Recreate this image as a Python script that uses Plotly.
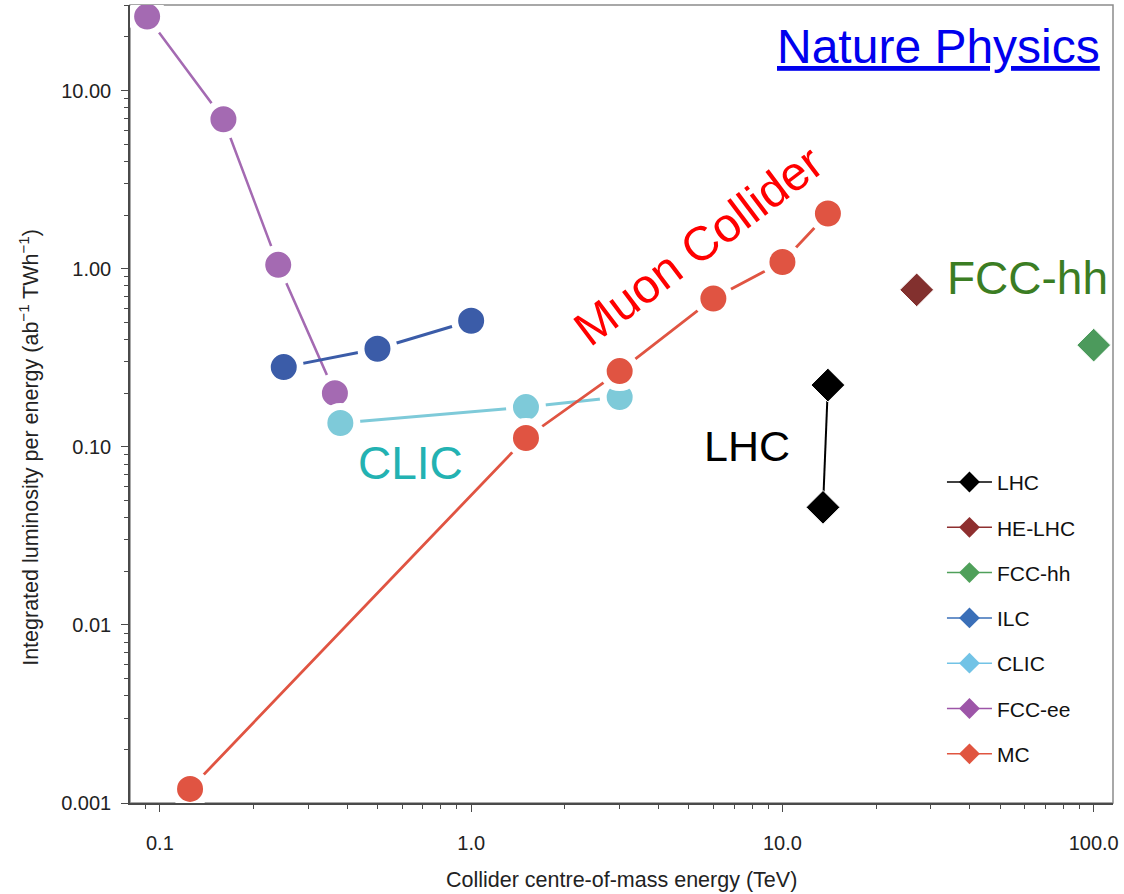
import plotly.graph_objects as go

# ---- data (TeV, ab^-1 TWh^-1) ----
fccee_E = [0.091, 0.16, 0.24, 0.365]
fccee_L = [26.0, 6.9, 1.05, 0.20]

ilc_E = [0.25, 0.5, 1.0]
ilc_L = [0.28, 0.355, 0.51]

clic_E = [0.38, 1.5, 3.0]
clic_L = [0.136, 0.167, 0.19]

mc_E = [0.125, 1.5, 3.0, 6.0, 10.0, 14.0]
mc_L = [0.0012, 0.112, 0.266, 0.68, 1.09, 2.04]

lhc_E = [14.0, 13.5]
lhc_L = [0.222, 0.0457]

helhc_E = [27.0]
helhc_L = [0.76]

fcchh_E = [100.0]
fcchh_L = [0.372]

legend_names = ["LHC", "HE-LHC", "FCC-hh", "ILC", "CLIC", "FCC-ee", "MC"]
legend_colors = ["#000000", "#8e2f2f", "#4fa05a", "#3a6fb8", "#72c3e6", "#9d55a8", "#e05540"]

x_tickvals = [0.1, 1.0, 10.0, 100.0]
x_ticktext = ["0.1", "1.0", "10.0", "100.0"]
y_tickvals = [0.001, 0.01, 0.1, 1.0, 10.0]
y_ticktext = ["0.001", "0.01", "0.10", "1.00", "10.00"]

fig = go.Figure()


def series(x, y, color, linecolor, symbol, size, lw, outline):
    fig.add_trace(go.Scatter(
        x=x, y=y, mode="lines+markers",
        line=dict(color=linecolor, width=lw),
        marker=dict(symbol=symbol, size=size, color=color,
                    line=dict(color="white", width=outline)),
        showlegend=False, hoverinfo="skip"))


series(fccee_E, fccee_L, "#a46ab2", "#a46ab2", "circle", 33, 2.5, 7)
series(ilc_E, ilc_L, "#3b5ca8", "#3b5ca8", "circle", 33, 3, 7)
series(clic_E, clic_L, "#7ecad9", "#7ecad9", "circle", 33, 3, 7)
series(mc_E, mc_L, "#e05442", "#e05442", "circle", 33, 2.8, 7)
series(lhc_E, lhc_L, "#000000", "#000000", "diamond", 26, 2, 1)
series(helhc_E, helhc_L, "#82302e", "#82302e", "diamond", 26, 2, 1)
series(fcchh_E, fcchh_L, "#4c9a5c", "#4c9a5c", "diamond", 26, 2, 1)

# legend-only entries
for i, (nm, col) in enumerate(zip(legend_names, legend_colors)):
    fig.add_trace(go.Scatter(
        x=[None], y=[None], mode="lines+markers", name=nm,
        legendgroup=nm,
        line=dict(color=col, width=1.5),
        marker=dict(symbol="diamond", size=16, color=col),
        showlegend=True))

minor_x = [m * 10 ** e for e in range(-2, 3) for m in range(2, 10)]
minor_y = [m * 10 ** e for e in range(-3, 2) for m in range(2, 10)]

axis_common = dict(
    type="log", showgrid=False, zeroline=False,
    showline=True, linecolor="#4a4a4a", linewidth=1.5,
    ticks="outside", ticklen=7, tickwidth=1.2, tickcolor="#4a4a4a",
    tickfont=dict(family="Liberation Sans, Arial, sans-serif", size=20, color="#222222"),
    tickmode="array",
)

fig.update_layout(
    width=1124, height=894,
    margin=dict(l=130, r=7, t=5, b=91),
    paper_bgcolor="white", plot_bgcolor="white",
    font=dict(family="Liberation Sans, Arial, sans-serif"),
    xaxis=dict(**axis_common, range=[-1.096, 2.062],
               tickvals=x_tickvals, ticktext=x_ticktext,
               ticklabelstandoff=14,
               minor=dict(tickmode="array", tickvals=minor_x, ticks="outside",
                          ticklen=4, tickcolor="#4a4a4a", showgrid=False)),
    yaxis=dict(**axis_common, range=[-3.0, 1.48],
               tickvals=y_tickvals, ticktext=y_ticktext,
               ticklabelstandoff=6,
               minor=dict(tickmode="array", tickvals=minor_y, ticks="outside",
                          ticklen=4, tickcolor="#4a4a4a", showgrid=False)),
    legend=dict(x=0.826, y=0.4275, xanchor="left", yanchor="top",
                font=dict(size=21, color="#111111"),
                bgcolor="rgba(0,0,0,0)", traceorder="grouped",
                tracegroupgap=15, itemwidth=45),
    shapes=[dict(type="rect", xref="paper", yref="paper", x0=0, x1=1, y0=0, y1=1,
                 line=dict(color="#8c8c8c", width=1.5), layer="below")],
    showlegend=True,
)

ann = [
    dict(text="Nature Physics", x=0.989, y=0.948, xanchor="right", yanchor="middle",
         font=dict(size=48, color="#0000ee", lineposition="under")),
    dict(text="Muon Collider", x=0.578, y=0.699, textangle=-37,
         font=dict(size=48, color="#ff0000")),
    dict(text="CLIC", x=0.2857, y=0.426, font=dict(size=46, color="#23b2b2")),
    dict(text="LHC", x=0.628, y=0.447, font=dict(size=43, color="#000000")),
    dict(text="FCC-hh", x=0.9128, y=0.658, font=dict(size=46, color="#3b7d23")),
    dict(text="Integrated luminosity per energy (ab<sup>\u22121</sup> TWh<sup>\u22121</sup>)",
         x=-0.103, y=0.446, textangle=-90, font=dict(size=21.5, color="#222222")),
    dict(text="Collider centre-of-mass energy (TeV)", x=0.5005, y=-0.0965,
         font=dict(size=21.5, color="#222222")),
]
for a in ann:
    a.setdefault("xref", "paper")
    a.setdefault("yref", "paper")
    a.setdefault("showarrow", False)
    a.setdefault("xanchor", "center")
    a.setdefault("yanchor", "middle")
fig.update_layout(annotations=ann)

fig.write_html("out.html", config={"displayModeBar": False},
               post_script="document.body.style.margin='0';")
